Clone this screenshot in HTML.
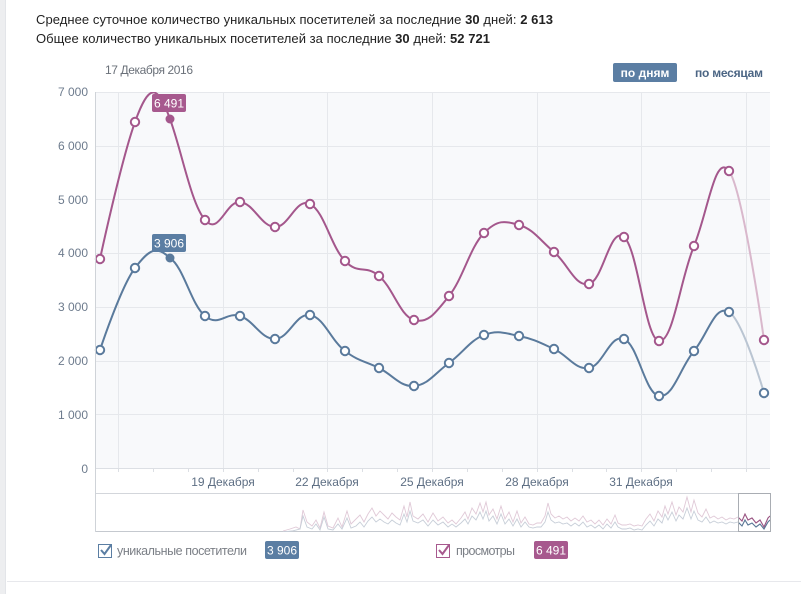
<!DOCTYPE html>
<html>
<head>
<meta charset="utf-8">
<style>
html,body{margin:0;padding:0;background:#fff;}
svg{display:block;}
text{font-family:"Liberation Sans","DejaVu Sans",sans-serif;}
</style>
</head>
<body>
<svg width="801" height="594" viewBox="0 0 801 594" xmlns="http://www.w3.org/2000/svg">
<defs>
<clipPath id="plotclip"><rect x="95" y="92" width="675" height="376"/></clipPath>
<clipPath id="navclip"><rect x="95" y="494" width="675" height="38"/></clipPath>
<clipPath id="selclip"><rect x="738" y="494" width="32" height="38"/></clipPath>
</defs>
<rect x="0" y="0" width="801" height="594" fill="#fff"/>
<rect x="0" y="0" width="5" height="594" fill="#edeef0"/>
<rect x="5" y="0" width="1" height="594" fill="#e3e5e9"/>

<!-- header text -->
<text x="36" y="24" font-size="13" fill="#222" textLength="517" lengthAdjust="spacing">Среднее суточное количество уникальных посетителей за последние <tspan font-weight="bold">30</tspan> дней: <tspan font-weight="bold">2 613</tspan></text>
<text x="36" y="43" font-size="13" fill="#222" textLength="454" lengthAdjust="spacing">Общее количество уникальных посетителей за последние <tspan font-weight="bold">30</tspan> дней: <tspan font-weight="bold">52 721</tspan></text>

<text x="105" y="74" font-size="12" fill="#6a7079" textLength="88" lengthAdjust="spacing">17 Декабря 2016</text>

<rect x="613" y="63" width="64" height="19" rx="2" fill="#5b7ea3"/>
<text x="645" y="77" font-size="12" font-weight="bold" fill="#fff" text-anchor="middle">по дням</text>
<text x="695" y="77" font-size="12" font-weight="bold" fill="#4b6584" textLength="68" lengthAdjust="spacing">по месяцам</text>

<!-- plot background -->
<rect x="95" y="92" width="675" height="376" fill="#f8f9fb"/>
<g stroke="#e6e8ec" stroke-width="1">
<line x1="95" y1="92.5" x2="770" y2="92.5"/>
<line x1="95" y1="146.5" x2="770" y2="146.5"/>
<line x1="95" y1="199.5" x2="770" y2="199.5"/>
<line x1="95" y1="253.5" x2="770" y2="253.5"/>
<line x1="95" y1="307.5" x2="770" y2="307.5"/>
<line x1="95" y1="361.5" x2="770" y2="361.5"/>
<line x1="95" y1="414.5" x2="770" y2="414.5"/>
<line x1="118.5" y1="92" x2="118.5" y2="468"/>
<line x1="223.5" y1="92" x2="223.5" y2="468"/>
<line x1="327.5" y1="92" x2="327.5" y2="468"/>
<line x1="432.5" y1="92" x2="432.5" y2="468"/>
<line x1="537.5" y1="92" x2="537.5" y2="468"/>
<line x1="641.5" y1="92" x2="641.5" y2="468"/>
<line x1="746.5" y1="92" x2="746.5" y2="468"/>
</g>
<line x1="95" y1="468.5" x2="770" y2="468.5" stroke="#dcdfe4"/>
<g stroke="#dcdfe4">
<line x1="118.5" y1="468" x2="118.5" y2="472"/><line x1="153.5" y1="468" x2="153.5" y2="472"/>
<line x1="188.5" y1="468" x2="188.5" y2="472"/><line x1="223.5" y1="468" x2="223.5" y2="472"/>
<line x1="258.5" y1="468" x2="258.5" y2="472"/><line x1="293.5" y1="468" x2="293.5" y2="472"/>
<line x1="327.5" y1="468" x2="327.5" y2="472"/><line x1="362.5" y1="468" x2="362.5" y2="472"/>
<line x1="397.5" y1="468" x2="397.5" y2="472"/><line x1="432.5" y1="468" x2="432.5" y2="472"/>
<line x1="467.5" y1="468" x2="467.5" y2="472"/><line x1="502.5" y1="468" x2="502.5" y2="472"/>
<line x1="537.5" y1="468" x2="537.5" y2="472"/><line x1="572.5" y1="468" x2="572.5" y2="472"/>
<line x1="606.5" y1="468" x2="606.5" y2="472"/><line x1="641.5" y1="468" x2="641.5" y2="472"/>
<line x1="676.5" y1="468" x2="676.5" y2="472"/><line x1="711.5" y1="468" x2="711.5" y2="472"/>
<line x1="746.5" y1="468" x2="746.5" y2="472"/>
</g>

<!-- y labels -->
<g font-size="12" fill="#6d7b8d" text-anchor="end">
<text x="88" y="96">7 000</text>
<text x="88" y="150">6 000</text>
<text x="88" y="204">5 000</text>
<text x="88" y="257">4 000</text>
<text x="88" y="311">3 000</text>
<text x="88" y="365">2 000</text>
<text x="88" y="419">1 000</text>
<text x="88" y="473">0</text>
</g>

<!-- x labels -->
<g font-size="12" fill="#5e6f84" text-anchor="middle">
<text x="223" y="486">19 Декабря</text>
<text x="327" y="486">22 Декабря</text>
<text x="432" y="486">25 Декабря</text>
<text x="537" y="486">28 Декабря</text>
<text x="641" y="486">31 Декабря</text>
</g>

<!-- series -->
<g clip-path="url(#plotclip)" fill="none" stroke-width="2" stroke-linejoin="round">
<path stroke="#a4578c" d="M100,259 C100,259 121,161 135,122 C150,80 158,86 170,119 C182,152 191,203.4 205,220 C219,236.6 226,200.6 240,202 C254,203.4 261,226.6 275,227 C289,227.4 296,197.2 310,204 C324,210.8 331,246.6 345,261 C359,275.4 365,264.2 379,276 C393,287.8 400,316 414,320 C428,324 435,313.4 449,296 C463,278.6 470,247.2 484,233 C498,218.8 505,221.2 519,225 C533,228.8 540,240.2 554,252 C568,263.8 575,287 589,284 C603,281 610,225.6 624,237 C638,248.4 645,339.2 659,341 C673,342.8 680,280 694,246 C708,212 715,152.2 729,171"/>
<path stroke="#d9b8cc" d="M729,171 C743,189.8 764,340 764,340"/>
<path stroke="#5a7a9c" d="M100,350 C100,350 121,286.4 135,268 C149,249.6 156,245 170,258 C184,267.6 191,304.4 205,316 C219,327.6 226,311.4 240,316 C254,320.6 261,339.2 275,339 C289,338.8 296,312.6 310,315 C324,317.4 331,340.4 345,351 C359,361.6 365,361 379,368 C393,375 400,387 414,386 C428,385 435,373.2 449,363 C463,352.8 470,340.4 484,335 C498,329.6 505,333.2 519,336 C533,338.8 540,342.6 554,349 C568,355.4 575,370 589,368 C603,366 610,333.4 624,339 C638,344.6 645,393.6 659,396 C673,398.4 680,367.8 694,351 C708,334.2 715,303.6 729,312"/>
<path stroke="#bac5d2" d="M729,312 C743,320.4 764,393 764,393"/>
</g>

<!-- markers -->
<g fill="#fff" stroke="#a4578c" stroke-width="2">
<circle cx="100" cy="259" r="4.2"/><circle cx="135" cy="122" r="4.2"/>
<circle cx="205" cy="220" r="4.2"/><circle cx="240" cy="202" r="4.2"/><circle cx="275" cy="227" r="4.2"/>
<circle cx="310" cy="204" r="4.2"/><circle cx="345" cy="261" r="4.2"/><circle cx="379" cy="276" r="4.2"/>
<circle cx="414" cy="320" r="4.2"/><circle cx="449" cy="296" r="4.2"/><circle cx="484" cy="233" r="4.2"/>
<circle cx="519" cy="225" r="4.2"/><circle cx="554" cy="252" r="4.2"/><circle cx="589" cy="284" r="4.2"/>
<circle cx="624" cy="237" r="4.2"/><circle cx="659" cy="341" r="4.2"/><circle cx="694" cy="246" r="4.2"/>
<circle cx="729" cy="171" r="4.2"/><circle cx="764" cy="340" r="4.2"/>
</g>
<circle cx="170" cy="119" r="4.5" fill="#a4578c"/>
<g fill="#fff" stroke="#5a7a9c" stroke-width="2">
<circle cx="100" cy="350" r="4.2"/><circle cx="135" cy="268" r="4.2"/>
<circle cx="205" cy="316" r="4.2"/><circle cx="240" cy="316" r="4.2"/><circle cx="275" cy="339" r="4.2"/>
<circle cx="310" cy="315" r="4.2"/><circle cx="345" cy="351" r="4.2"/><circle cx="379" cy="368" r="4.2"/>
<circle cx="414" cy="386" r="4.2"/><circle cx="449" cy="363" r="4.2"/><circle cx="484" cy="335" r="4.2"/>
<circle cx="519" cy="336" r="4.2"/><circle cx="554" cy="349" r="4.2"/><circle cx="589" cy="368" r="4.2"/>
<circle cx="624" cy="339" r="4.2"/><circle cx="659" cy="396" r="4.2"/><circle cx="694" cy="351" r="4.2"/>
<circle cx="729" cy="312" r="4.2"/><circle cx="764" cy="393" r="4.2"/>
</g>
<circle cx="170" cy="258" r="4.5" fill="#5a7a9c"/>

<!-- tooltips -->
<rect x="152" y="94" width="34" height="18" rx="2" fill="#a7598e"/>
<text x="169" y="107.5" font-size="12" fill="#fff" text-anchor="middle">6 491</text>
<rect x="152" y="234" width="34" height="18" rx="2" fill="#5b7ea3"/>
<text x="169" y="247.5" font-size="12" fill="#fff" text-anchor="middle">3 906</text>

<!-- navigator -->
<line x1="95" y1="493.5" x2="770" y2="493.5" stroke="#d3d6db"/>
<line x1="95" y1="531.5" x2="770" y2="531.5" stroke="#c5c9cf"/>
<line x1="95.5" y1="92" x2="95.5" y2="532" stroke="#cfd3d8"/>
<g clip-path="url(#navclip)" fill="none" stroke-width="0.9">
<polyline stroke="#e0c9d7" points="283,531 290,529 296,527 300,529 303,510 307,522 312,526 316,520 320,528 324,512 328,526 333,528 338,518 342,527 347,511 351,524 356,519 360,515 364,522 368,514 372,508 376,516 380,511 384,515 388,519 392,513 396,517 400,520 404,506 407,517 410,502 413,516 418,519 423,514 428,522 433,513 438,521 443,517 448,523 452,520 456,524 461,518 465,512 468,519 472,508 476,514 480,503 483,512 486,502 489,515 493,509 497,519 501,506 505,519 509,512 513,522 517,511 521,523 525,517 529,524 533,525 537,523 541,523 545,516 548,503 551,514 555,518 559,516 563,519 567,517 571,521 575,518 579,521 583,516 587,522 591,520 595,524 599,520 603,525 607,519 611,524 615,515 618,523 622,525 626,525 630,524 634,526 638,525 642,526 646,519 650,514 654,521 658,511 662,517 665,506 668,514 672,502 676,515 679,507 683,512 687,497 691,512 694,500 698,513 702,517 706,509 710,518 714,516 718,519 722,517 726,520 730,518 734,519 738,517 742,521 745,514 748,520 752,518 756,523 760,520 764,527 768,518 770,516"/>
<polyline stroke="#c7ced8" points="283,532 292,531 300,529 303,516 307,527 312,529 316,524 320,530 324,517 328,529 333,530 338,524 342,529 347,518 351,528 356,526 360,522 364,527 368,521 372,517 376,522 380,519 384,522 388,524 392,520 396,523 400,525 404,514 407,522 410,511 413,521 418,523 423,520 428,526 433,520 438,525 443,522 448,527 452,524 456,527 461,523 465,519 468,524 472,516 476,520 480,512 483,519 486,511 489,521 493,516 497,524 501,514 505,524 509,519 513,526 517,519 521,527 525,522 529,527 533,528 537,527 541,527 545,522 548,512 551,520 555,523 559,522 563,524 567,523 571,526 575,523 579,526 583,522 587,527 591,525 595,528 599,525 603,529 607,524 611,528 615,522 618,527 622,529 626,529 630,528 634,530 638,529 642,530 646,525 650,521 654,526 658,519 662,523 665,514 668,520 672,512 676,521 679,515 683,519 687,508 691,519 694,511 698,520 702,522 706,517 710,523 714,521 718,523 722,522 726,524 730,522 734,523 738,522 742,526 745,520 748,525 752,523 756,527 760,524 764,529 768,522 770,520"/>
</g>
<g clip-path="url(#selclip)" fill="none" stroke-width="1.1">
<polyline stroke="#9a5583" points="734,519 738,517 742,521 745,514 748,520 752,518 756,523 760,520 764,527 768,518 770,516"/>
<polyline stroke="#5a7796" points="734,523 738,522 742,526 745,520 748,525 752,523 756,527 760,524 764,529 768,522 770,520"/>
</g>
<rect x="738.5" y="493.5" width="32" height="38" fill="none" stroke="#a9adb3"/>

<!-- legend -->
<rect x="98.5" y="544.5" width="13" height="13" fill="#fff" stroke="#5b7ea3"/>
<polyline points="101,550 104.5,554 111,545" fill="none" stroke="#5b7ea3" stroke-width="2"/>
<text x="117" y="555" font-size="12.5" fill="#7b7f86" textLength="130" lengthAdjust="spacing">уникальные посетители</text>
<rect x="265" y="541" width="34" height="18" rx="2" fill="#5b7ea3"/>
<text x="282" y="554.5" font-size="12" fill="#fff" text-anchor="middle">3 906</text>

<rect x="436.5" y="544.5" width="13" height="13" fill="#fff" stroke="#a7598e"/>
<polyline points="439,550 442.5,554 449,545" fill="none" stroke="#a7598e" stroke-width="2"/>
<text x="456" y="555" font-size="12.5" fill="#7b7f86" textLength="59" lengthAdjust="spacing">просмотры</text>
<rect x="534" y="541" width="34" height="18" rx="2" fill="#a7598e"/>
<text x="551" y="554.5" font-size="12" fill="#fff" text-anchor="middle">6 491</text>

<line x1="7" y1="581.5" x2="801" y2="581.5" stroke="#e7e8ec"/>
</svg>
</body>
</html>
